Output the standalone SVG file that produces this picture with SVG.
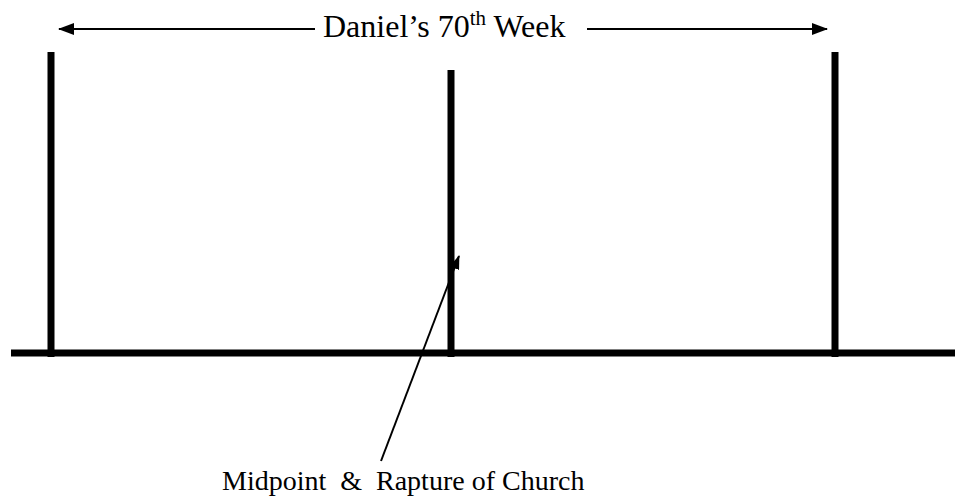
<svg xmlns="http://www.w3.org/2000/svg" width="959" height="502" viewBox="0 0 959 502">
  <style>
    .bar { stroke: #000; stroke-width: 7; fill: none; }
    .thin { stroke: #000; stroke-width: 2; fill: none; }
    text { font-family: "Liberation Serif", "Times New Roman", serif; fill: #000; }
    .title { font-size: 32px; }
    .cap { font-size: 28px; }
  </style>
  <defs>
    <marker id="ah" viewBox="0 0 16 12" refX="15" refY="6" markerWidth="16" markerHeight="12" markerUnits="userSpaceOnUse" orient="auto">
      <path d="M0,0 L16,6 L0,12 Z" fill="#000"/>
    </marker>
    <marker id="ah2" viewBox="0 0 14 10" refX="13" refY="5" markerWidth="14" markerHeight="10" markerUnits="userSpaceOnUse" orient="auto">
      <path d="M0,0 L14,5 L0,10 Z" fill="#000"/>
    </marker>
  </defs>
  <rect width="959" height="502" fill="#fff"/>
  <g id="timeline">
    <line class="bar" x1="11" y1="353" x2="955" y2="353"/>
  </g>
  <g id="start">
    <line class="bar" x1="51" y1="52" x2="51" y2="357"/>
  </g>
  <g id="midpoint">
    <line class="bar" x1="451" y1="70" x2="451" y2="357"/>
  </g>
  <g id="end">
    <line class="bar" x1="835" y1="52" x2="835" y2="357"/>
  </g>
  <g id="connectors">
    <line class="thin" x1="315" y1="29" x2="59" y2="29" marker-end="url(#ah)"/>
    <line class="thin" x1="587" y1="29" x2="827" y2="29" marker-end="url(#ah)"/>
    <line class="thin" x1="381" y1="461" x2="459" y2="256" marker-end="url(#ah2)"/>
  </g>
  <g id="title">
    <text class="title" x="323" y="37">Daniel’s 70<tspan font-size="21" dy="-12">th</tspan><tspan dy="12"> Week</tspan></text>
  </g>
  <g id="caption">
    <text class="cap" x="222" y="490" xml:space="preserve">Midpoint  &amp;  Rapture of Church</text>
  </g>
</svg>
